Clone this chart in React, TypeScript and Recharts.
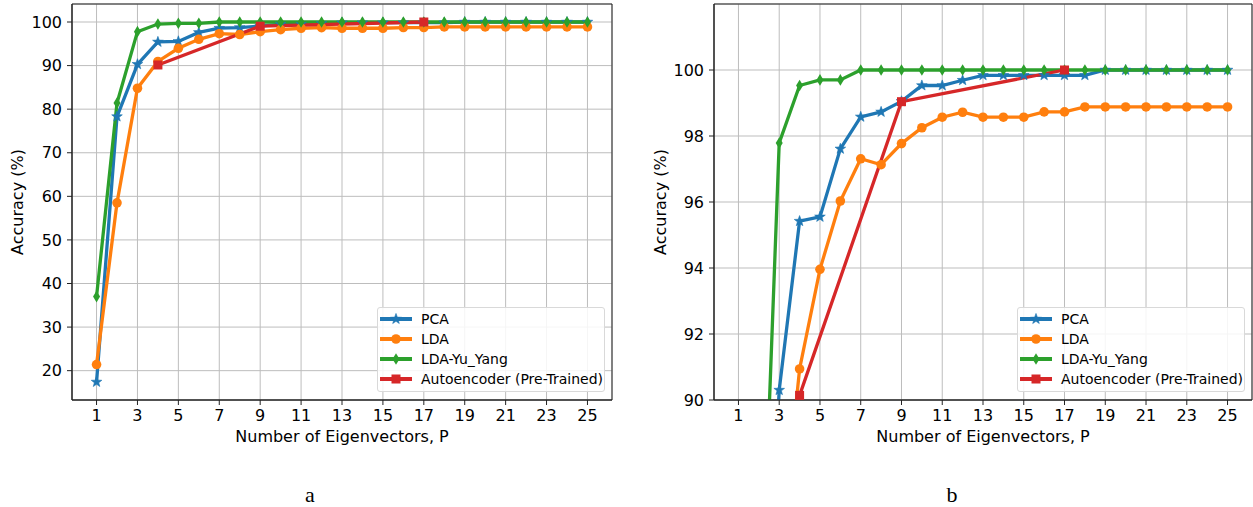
import { CartesianGrid, Legend, Line, LineChart, ReferenceArea, XAxis, YAxis } from 'recharts';

// number of eigenvectors P
const eigenvectors = [1, 2, 3, 4, 5, 6, 7, 8, 9, 10, 11, 12, 13, 14, 15, 16, 17, 18, 19, 20, 21, 22, 23, 24, 25];
const pcaAccuracy = [
  17.4, 78.3, 90.3, 95.42, 95.55, 97.61, 98.58, 98.73, 99.05, 99.53, 99.53, 99.69, 99.84, 99.84, 99.84, 99.84,
  99.84, 99.84, 100, 100, 100, 100, 100, 100, 100,
];
const ldaAccuracy = [
  21.4, 58.5, 84.8, 90.94, 93.96, 96.03, 97.31, 97.13, 97.77, 98.25, 98.57, 98.72, 98.57, 98.57, 98.57, 98.73,
  98.73, 98.88, 98.88, 98.88, 98.88, 98.88, 98.88, 98.88, 98.88,
];
const yuYangAccuracy = [
  37, 81.4, 97.79, 99.53, 99.7, 99.7, 100, 100, 100, 100, 100, 100, 100, 100, 100, 100, 100, 100, 100, 100, 100,
  100, 100, 100, 100,
];
const autoencoderP = [4, 9, 17];
const autoencoderAccuracy = [90.14, 99.04, 100];

const xTicks = [1, 3, 5, 7, 9, 11, 13, 15, 17, 19, 21, 23, 25];
const fullYTicks = [20, 30, 40, 50, 60, 70, 80, 90, 100];
const zoomYTicks = [90, 92, 94, 96, 98, 100];

const series = [
  { key: 'pca', name: 'PCA', color: '#1f77b4', marker: 'star' },
  { key: 'lda', name: 'LDA', color: '#ff7f0e', marker: 'circle' },
  { key: 'yu', name: 'LDA-Yu_Yang', color: '#2ca02c', marker: 'diamond' },
  { key: 'ae', name: 'Autoencoder (Pre-Trained)', color: '#d62728', marker: 'square' },
];

const rows = eigenvectors.map((p, i) => ({
  p,
  pca: pcaAccuracy[i],
  lda: ldaAccuracy[i],
  yu: yuYangAccuracy[i],
}));
const aeRows = autoencoderP.map((p, i) => ({ p, ae: autoencoderAccuracy[i] }));

const FONT = 'DejaVu Sans';
const AXIS = '#222';
const LINE_W = 3.3;

function Marker({ kind, cx, cy, color }: { kind: string; cx: number; cy: number; color: string }) {
  if (kind === 'circle') return <circle cx={cx} cy={cy} r={4.8} fill={color} />;
  if (kind === 'square') return <rect x={cx - 4.5} y={cy - 4.5} width={9} height={9} fill={color} />;
  if (kind === 'diamond') {
    const pts = `${cx},${cy - 5.8} ${cx + 3.5},${cy} ${cx},${cy + 5.8} ${cx - 3.5},${cy}`;
    return <polygon points={pts} fill={color} />;
  }
  // 5-point star
  const pts: string[] = [];
  for (let k = 0; k < 10; k++) {
    const r = k % 2 === 0 ? 5.6 : 2.3;
    const a = -Math.PI / 2 + (k * Math.PI) / 5;
    pts.push(`${cx + r * Math.cos(a)},${cy + r * Math.sin(a)}`);
  }
  return <polygon points={pts.join(' ')} fill={color} stroke={color} strokeWidth={0.6} />;
}

function LegendBox() {
  return (
    <div
      style={{
        border: '1px solid #d9d9d9',
        borderRadius: 3,
        background: 'rgba(255,255,255,0.85)',
        padding: '1px 0 2px 1px',
        fontFamily: FONT,
        fontSize: 14,
        color: '#000',
      }}
    >
      {series.map((s) => (
        <div key={s.key} style={{ display: 'flex', alignItems: 'center', height: 20 }}>
          <svg width={34} height={20} style={{ display: 'block' }}>
            <line x1={1} y1={10} x2={33} y2={10} stroke={s.color} strokeWidth={4} />
            <Marker kind={s.marker} cx={17} cy={10} color={s.color} />
          </svg>
          <span style={{ marginLeft: 8, whiteSpace: 'nowrap' }}>{s.name}</span>
        </div>
      ))}
    </div>
  );
}

function Panel({
  left,
  width,
  rightMargin,
  yDomain,
  yTicks,
  labelOffset,
  legendLeft,
}: {
  left: number;
  width: number;
  rightMargin: number;
  yDomain: [number, number];
  yTicks: number[];
  labelOffset: number;
  legendLeft: number;
}) {
  const xDomain: [number, number] = [-0.2, 26.2];
  return (
    <div style={{ position: 'absolute', left, top: 0 }}>
      <LineChart width={width} height={450} data={rows} margin={{ top: 4, right: rightMargin, bottom: 0, left: 0 }}>
        <CartesianGrid stroke="#bdbdbd" strokeWidth={1} />
        <XAxis
          dataKey="p"
          type="number"
          domain={xDomain}
          allowDataOverflow
          ticks={xTicks}
          interval={0}
          height={50}
          tickSize={5}
          tickMargin={5}
          axisLine={{ stroke: AXIS }}
          tickLine={{ stroke: AXIS }}
          tick={{ fill: '#000', fontSize: 16, fontFamily: FONT }}
          label={{
            value: 'Number of Eigenvectors, P',
            position: 'insideBottom',
            offset: 8,
            style: { fill: '#000', fontSize: 16, fontFamily: FONT },
          }}
        />
        <YAxis
          type="number"
          domain={yDomain}
          allowDataOverflow
          ticks={yTicks}
          interval={0}
          width={72}
          tickSize={5}
          tickMargin={5}
          axisLine={{ stroke: AXIS }}
          tickLine={{ stroke: AXIS }}
          tick={{ fill: '#000', fontSize: 16, fontFamily: FONT }}
          label={{
            value: 'Accuracy (%)',
            angle: -90,
            position: 'insideLeft',
            offset: labelOffset,
            style: { textAnchor: 'middle', fill: '#000', fontSize: 16, fontFamily: FONT },
          }}
        />
        <ReferenceArea
          x1={xDomain[0]}
          x2={xDomain[1]}
          y1={yDomain[0]}
          y2={yDomain[1]}
          fill="none"
          stroke={AXIS}
          strokeWidth={1}
          ifOverflow="visible"
        />
        {series.map((s) => (
          <Line
            key={s.key}
            data={s.key === 'ae' ? aeRows : undefined}
            dataKey={s.key}
            name={s.name}
            type="linear"
            stroke={s.color}
            strokeWidth={LINE_W}
            isAnimationActive={false}
            activeDot={false}
            dot={(d: any) => (
              <Marker key={`${s.key}-${d.index}`} kind={s.marker} cx={d.cx} cy={d.cy} color={s.color} />
            )}
          />
        ))}
        <Legend
          layout="vertical"
          align="center"
          verticalAlign="middle"
          wrapperStyle={{ left: legendLeft, top: 307, width: 228 }}
          content={() => <LegendBox />}
        />
      </LineChart>
    </div>
  );
}

const captionStyle = {
  position: 'absolute' as const,
  width: 40,
  top: 484,
  textAlign: 'center' as const,
  fontFamily: 'Liberation Serif',
  fontSize: 22,
  lineHeight: '22px',
};

export default function App() {
  return (
    <div
      style={{
        position: 'absolute',
        left: 0,
        top: 0,
        width: 1253,
        height: 507,
        background: '#fff',
        fontFamily: FONT,
        overflow: 'hidden',
      }}
    >
      <Panel
        left={0}
        width={620}
        rightMargin={8}
        yDomain={[13.27, 104.13]}
        yTicks={fullYTicks}
        labelOffset={17}
        legendLeft={377}
      />
      <Panel
        left={642}
        width={611}
        rightMargin={1}
        yDomain={[90, 102]}
        yTicks={zoomYTicks}
        labelOffset={18}
        legendLeft={375}
      />
      <div style={{ ...captionStyle, left: 290 }}>a</div>
      <div style={{ ...captionStyle, left: 932 }}>b</div>
    </div>
  );
}
